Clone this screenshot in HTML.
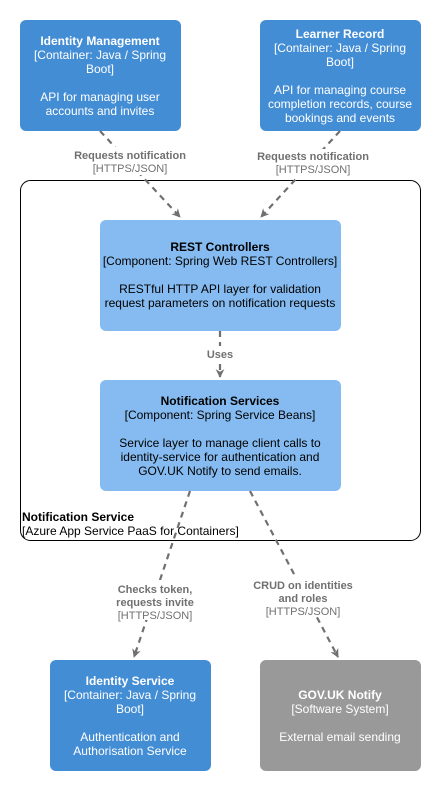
<!DOCTYPE html>
<html><head><meta charset="utf-8"><style>
html,body{margin:0;padding:0;background:#fff;}
svg{display:block;font-family:"Liberation Sans",Arial,sans-serif;}
</style></head><body>
<svg width="441" height="791" viewBox="0 0 441 791" xmlns="http://www.w3.org/2000/svg">
<defs>
<marker id="ah" viewBox="0 0 10 10" refX="9" refY="5" markerWidth="4" markerHeight="4" orient="auto">
<path d="M0,0 L10,5 L0,10 L3,5 z" fill="#707070"/>
</marker>
</defs>
<rect x="20.5" y="180.5" width="400" height="360" rx="10" fill="#fff" stroke="#000" stroke-width="1"/>
<g fill="#438dd5">
<rect x="20" y="20" width="161" height="111" rx="6"/>
<rect x="260" y="20" width="161" height="111" rx="6"/>
<rect x="50" y="660" width="161" height="111" rx="6"/>
</g>
<rect x="260" y="660" width="161" height="111" rx="6" fill="#999"/>
<rect x="100" y="220" width="241" height="111" rx="6" fill="#85bbf0"/>
<rect x="100" y="380" width="241" height="111" rx="6" fill="#85bbf0"/>
<g stroke="#707070" stroke-width="2.2" stroke-dasharray="6,5" fill="none" marker-end="url(#ah)">
<path d="M100,131 L180,217"/>
<path d="M340,131 L261,217"/>
<path d="M220,331 L220,377"/>
<path d="M190,491 L134,657"/>
<path d="M250,491 L338,657"/>
</g>
<g font-size="12" text-anchor="middle">
<rect x="72" y="147" width="120" height="28" fill="#fff"/>
<rect x="255" y="149" width="120" height="28" fill="#fff"/>
<rect x="205" y="346" width="30" height="14" fill="#fff"/>
<rect x="112" y="580" width="84" height="40" fill="#fff"/>
<rect x="250" y="577" width="110" height="40" fill="#fff"/>
</g>
<g font-size="11" text-anchor="middle" fill="#707070">
<text x="130" y="159" font-weight="bold">Requests notification</text>
<text x="130" y="172">[HTTPS/JSON]</text>
<text x="313" y="160" font-weight="bold">Requests notification</text>
<text x="313" y="173">[HTTPS/JSON]</text>
<text x="220" y="358" font-weight="bold">Uses</text>
<text x="155" y="593" font-weight="bold">Checks token,</text>
<text x="155" y="606" font-weight="bold">requests invite</text>
<text x="155" y="619">[HTTPS/JSON]</text>
<text x="303" y="589" font-weight="bold">CRUD on identities</text>
<text x="303" y="602" font-weight="bold">and roles</text>
<text x="303" y="615">[HTTPS/JSON]</text>
</g>
<g font-size="12" text-anchor="middle" fill="#fff">
<text x="100" y="45" font-weight="bold">Identity Management</text>
<text x="100" y="59">[Container: Java / Spring</text>
<text x="100" y="73">Boot]</text>
<text x="100" y="101">API for managing user</text>
<text x="100" y="115">accounts and invites</text>
<text x="340" y="38" font-weight="bold">Learner Record</text>
<text x="340" y="52">[Container: Java / Spring</text>
<text x="340" y="66">Boot]</text>
<text x="340" y="94">API for managing course</text>
<text x="340" y="108">completion records, course</text>
<text x="340" y="122">bookings and events</text>
<text x="130" y="685" font-weight="bold">Identity Service</text>
<text x="130" y="699">[Container: Java / Spring</text>
<text x="130" y="713">Boot]</text>
<text x="130" y="741">Authentication and</text>
<text x="130" y="755">Authorisation Service</text>
<text x="340" y="699" font-weight="bold">GOV.UK Notify</text>
<text x="340" y="713">[Software System]</text>
<text x="340" y="741">External email sending</text>
</g>
<g font-size="12" text-anchor="middle" fill="#000">
<text x="220" y="251" font-weight="bold">REST Controllers</text>
<text x="220" y="265">[Component: Spring Web REST Controllers]</text>
<text x="220" y="293">RESTful HTTP API layer for validation</text>
<text x="220" y="307">request parameters on notification requests</text>
<text x="220" y="405" font-weight="bold">Notification Services</text>
<text x="220" y="419">[Component: Spring Service Beans]</text>
<text x="220" y="447">Service layer to manage client calls to</text>
<text x="220" y="461">identity-service for authentication and</text>
<text x="220" y="475">GOV.UK Notify to send emails.</text>
</g>
<g font-size="12" fill="#000">
<text x="22" y="521" font-weight="bold">Notification Service</text>
<text x="22" y="535">[Azure App Service PaaS for Containers]</text>
</g>
</svg>
</body></html>
